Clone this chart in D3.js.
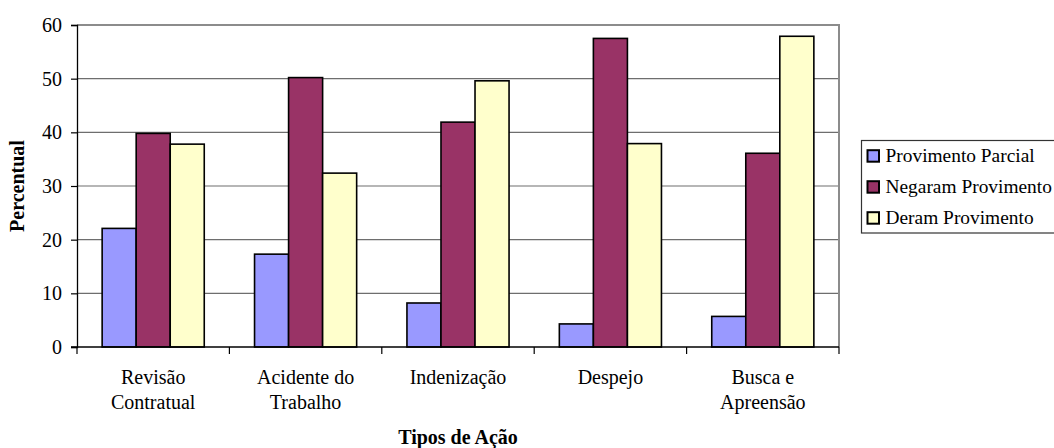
<!DOCTYPE html>
<html>
<head>
<meta charset="utf-8">
<script src="https://cdn.jsdelivr.net/npm/d3@7"></script>
<style>
  html, body { margin: 0; padding: 0; background: #fff; }
  svg { display: block; }
  svg text { font-family: "Liberation Serif", "Times New Roman", serif; }
</style>
</head>
<body>
<svg id="chart" width="1054" height="448"></svg>
<script>
// Categories (two-line labels) and series values (percent)
const categories = ["Revisão Contratual", "Acidente do Trabalho", "Indenização", "Despejo", "Busca e Apreensão"];
const categoryLines = [["Revisão", "Contratual"], ["Acidente do", "Trabalho"], ["Indenização"], ["Despejo"], ["Busca e", "Apreensão"]];
const seriesNames = ["Provimento Parcial", "Negaram Provimento", "Deram Provimento"];
const provimentoParcial = [22.1, 17.3, 8.2, 4.3, 5.7];
const negaramProvimento = [39.8, 50.2, 41.9, 57.5, 36.1];
const deramProvimento = [37.8, 32.4, 49.6, 37.9, 57.9];
const yTicks = [0, 10, 20, 30, 40, 50, 60];
const seriesColors = ["#9999FF", "#993366", "#FFFFCC"];

const serif = "Liberation Serif";
const seriesValues = [provimentoParcial, negaramProvimento, deramProvimento];
const rows = categories.map((c, i) => ({
  category: c,
  values: seriesNames.map((s, j) => ({ series: s, value: seriesValues[j][i], color: seriesColors[j] }))
}));

const svg = d3.select("#chart");
const plot = { left: 77, right: 839, top: 25, bottom: 347 };

const x0 = d3.scaleBand().domain(categories).range([plot.left, plot.right]).padding(0);
const bw = x0.bandwidth();
const x1 = d3.scaleBand().domain(seriesNames).range([bw * 0.165, bw * 0.835]).padding(0);
const y = d3.scaleLinear().domain([0, 60]).range([plot.bottom, plot.top]);

// Horizontal gridlines
svg.append("g")
  .selectAll("line")
  .data(yTicks.filter(t => t > 0 && t < 60))
  .join("line")
  .attr("x1", plot.left).attr("x2", plot.right)
  .attr("y1", d => y(d)).attr("y2", d => y(d))
  .attr("stroke", "#6e6e6e").attr("stroke-width", 1.2);

// Plot frame (top and right in gray)
svg.append("path")
  .attr("d", `M${plot.left},${y(60)}H${plot.right}V${plot.bottom}`)
  .attr("fill", "none").attr("stroke", "#8c8c8c").attr("stroke-width", 2);

// Bars
const groups = svg.append("g")
  .selectAll("g")
  .data(rows)
  .join("g")
  .attr("transform", d => `translate(${x0(d.category)},0)`);

groups.selectAll("rect")
  .data(d => d.values)
  .join("rect")
  .attr("x", d => x1(d.series))
  .attr("width", x1.bandwidth())
  .attr("y", d => y(d.value))
  .attr("height", d => y(0) - y(d.value))
  .attr("fill", d => d.color)
  .attr("stroke", "#000")
  .attr("stroke-width", 1.6);

// Y axis
const yAxis = svg.append("g")
  .attr("transform", `translate(${plot.left},0)`)
  .call(d3.axisLeft(y).tickValues(yTicks).tickSize(6).tickPadding(9).tickFormat(d3.format("d")));
yAxis.attr("font-family", serif).attr("font-size", 20);
yAxis.select(".domain").attr("stroke", "#000").attr("stroke-width", 1.3);
yAxis.selectAll(".tick line").attr("stroke", "#000").attr("stroke-width", 1.2);
yAxis.selectAll(".tick text").attr("fill", "#000");

// X axis line with ticks at category boundaries
const boundaries = categories.map(c => x0(c)).concat([plot.right]);
svg.append("line")
  .attr("x1", plot.left - 6).attr("x2", plot.right)
  .attr("y1", plot.bottom).attr("y2", plot.bottom)
  .attr("stroke", "#000").attr("stroke-width", 1.3);
svg.append("g")
  .selectAll("line")
  .data(boundaries)
  .join("line")
  .attr("x1", d => d).attr("x2", d => d)
  .attr("y1", plot.bottom).attr("y2", plot.bottom + 7)
  .attr("stroke", "#000").attr("stroke-width", 1.2);

// Category labels
svg.append("g")
  .selectAll("text")
  .data(categories)
  .join("text")
  .attr("x", d => x0(d) + bw / 2)
  .attr("y", 384)
  .attr("text-anchor", "middle")
  .attr("font-family", serif)
  .attr("font-size", 20)
  .attr("fill", "#000")
  .each(function (d, i) {
    const t = d3.select(this);
    categoryLines[i].forEach((line, k) => {
      t.append("tspan").attr("x", x0(d) + bw / 2).attr("dy", k === 0 ? 0 : 25).text(line);
    });
  });

// Axis titles
svg.append("text")
  .attr("x", (plot.left + plot.right) / 2).attr("y", 444)
  .attr("text-anchor", "middle")
  .attr("font-family", serif)
  .attr("font-size", 20).attr("font-weight", "bold")
  .text("Tipos de Ação");

svg.append("text")
  .attr("transform", `translate(24,${(plot.top + plot.bottom) / 2}) rotate(-90)`)
  .attr("text-anchor", "middle")
  .attr("font-family", serif)
  .attr("font-size", 20).attr("font-weight", "bold")
  .text("Percentual");

// Legend
const legend = svg.append("g");
legend.append("rect")
  .attr("x", 861.5).attr("y", 140.5).attr("width", 220).attr("height", 92.5)
  .attr("fill", "#fff").attr("stroke", "#333").attr("stroke-width", 1.2);
const items = legend.selectAll("g.item")
  .data(seriesNames)
  .join("g")
  .attr("class", "item")
  .attr("transform", (d, i) => `translate(0,${155.7 + i * 31})`);
items.append("rect")
  .attr("x", 867.5).attr("y", -5.5).attr("width", 11.5).attr("height", 11.5)
  .attr("fill", (d, i) => seriesColors[i])
  .attr("stroke", "#000").attr("stroke-width", 2);
items.append("text")
  .attr("x", 885.5).attr("y", 0)
  .attr("dy", "0.34em")
  .attr("font-family", serif)
  .attr("font-size", 19.4)
  .attr("fill", "#000")
  .text(d => d);
</script>
</body>
</html>
